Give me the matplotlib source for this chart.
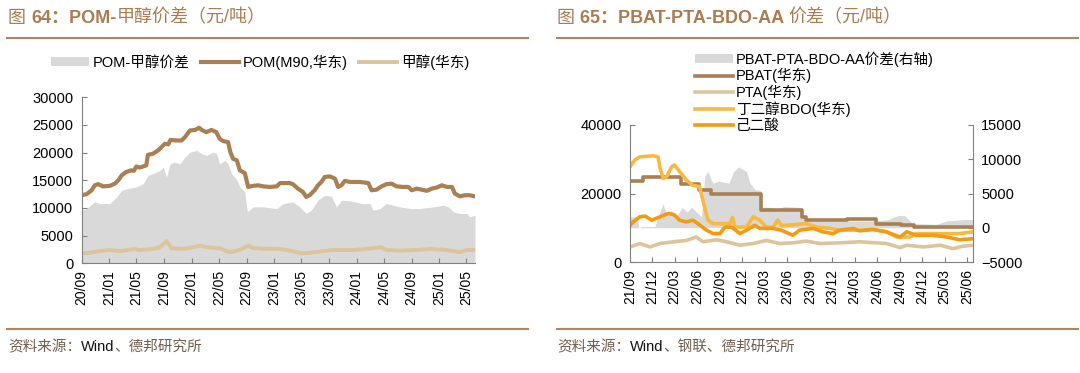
import pandas as pd
import matplotlib
matplotlib.use('Agg')
import matplotlib.pyplot as plt
import matplotlib.dates as mdates

plt.rcParams['font.family'] = ['Liberation Sans', 'Noto Sans CJK SC']

# ---- figure 64: POM - methanol ----
pom_dates = ['2020-09-01', '2020-09-23', '2020-10-15', '2020-10-29', '2020-11-13', '2020-12-05',
    '2021-01-04', '2021-01-26', '2021-02-10', '2021-02-25', '2021-03-17', '2021-04-08',
    '2021-04-20', '2021-05-01', '2021-05-15', '2021-06-14', '2021-06-21', '2021-07-13',
    '2021-08-05', '2021-08-20', '2021-09-04', '2021-09-19', '2021-09-29', '2021-10-26',
    '2021-11-17', '2021-12-02', '2021-12-24', '2022-01-16', '2022-02-03', '2022-02-14',
    '2022-03-07', '2022-03-29', '2022-04-20', '2022-05-05', '2022-05-19', '2022-06-11',
    '2022-06-21', '2022-07-03', '2022-07-20', '2022-08-02', '2022-08-24', '2022-09-08',
    '2022-09-30', '2022-10-22', '2022-11-14', '2022-12-13', '2023-01-12', '2023-01-27',
    '2023-03-10', '2023-03-25', '2023-04-16', '2023-05-08', '2023-05-23', '2023-06-07',
    '2023-06-29', '2023-07-14', '2023-07-29', '2023-08-13', '2023-09-05', '2023-09-27',
    '2023-10-11', '2023-10-26', '2023-11-10', '2023-12-02', '2024-01-16', '2024-02-22',
    '2024-03-07', '2024-03-29', '2024-04-20', '2024-05-12', '2024-06-04', '2024-06-26',
    '2024-07-25', '2024-08-17', '2024-09-01', '2024-09-23', '2024-10-15', '2024-11-07',
    '2024-11-29', '2024-12-21', '2025-01-12', '2025-02-04', '2025-02-26', '2025-03-11',
    '2025-04-02', '2025-04-25', '2025-05-16', '2025-06-08']
pom_price = [12300, 12500, 13200, 14100, 14300, 13900,
    14000, 14400, 15000, 15900, 16500, 16800,
    16700, 17500, 17300, 17700, 19600, 19800,
    20400, 21000, 21600, 21500, 22300, 22200,
    22200, 22800, 24000, 24100, 24500, 24100,
    23700, 24100, 23700, 22500, 22100, 21900,
    20100, 18900, 18600, 16800, 16300, 13800,
    14000, 14100, 13900, 13800, 13900, 14500,
    14500, 14300, 13500, 12900, 12000, 12300,
    13200, 14100, 14700, 15600, 15700, 15300,
    13800, 14100, 14900, 14700, 14700, 14500,
    13200, 13300, 13900, 14300, 14400, 13900,
    13800, 13800, 13200, 13500, 13300, 13100,
    13500, 13700, 14100, 13800, 13800, 12600,
    12100, 12300, 12300, 12100]

spread64_dates = ['2020-09-01', '2020-09-23', '2020-10-29', '2020-11-20', '2021-01-04', '2021-02-03',
    '2021-02-25', '2021-03-24', '2021-05-01', '2021-06-01', '2021-06-21', '2021-07-13',
    '2021-08-13', '2021-08-28', '2021-09-12', '2021-09-27', '2021-10-19', '2021-11-10',
    '2021-12-02', '2021-12-24', '2022-01-23', '2022-02-14', '2022-03-07', '2022-04-06',
    '2022-04-20', '2022-05-05', '2022-05-27', '2022-06-11', '2022-06-26', '2022-07-17',
    '2022-08-02', '2022-08-24', '2022-09-04', '2022-09-30', '2022-11-14', '2023-01-12',
    '2023-02-11', '2023-03-25', '2023-04-24', '2023-05-23', '2023-06-14', '2023-07-14',
    '2023-08-13', '2023-09-12', '2023-10-04', '2023-10-26', '2023-12-02', '2024-01-23',
    '2024-03-01', '2024-03-14', '2024-04-13', '2024-05-12', '2024-06-11', '2024-07-10',
    '2024-08-24', '2024-10-08', '2024-12-07', '2025-01-20', '2025-02-11', '2025-03-04',
    '2025-04-02', '2025-05-02', '2025-05-16', '2025-06-08']
spread64 = [9600, 9900, 11100, 10800, 10800, 12000,
    13200, 13500, 13800, 14400, 15900, 16200,
    16800, 17400, 15600, 18000, 18300, 18000,
    19200, 20100, 20400, 19800, 19500, 20100,
    19900, 18000, 18600, 18000, 16200, 15300,
    13800, 12900, 9300, 10200, 10200, 9900,
    10800, 11100, 10200, 9000, 9600, 11400,
    12300, 12100, 10200, 11400, 11300, 10800,
    10800, 9600, 9900, 10800, 10500, 10200,
    9900, 9900, 10200, 10500, 10200, 9300,
    9000, 9000, 8400, 8700]

meoh_dates = ['2020-09-01', '2020-10-07', '2020-11-20', '2021-01-04', '2021-02-18', '2021-04-20',
    '2021-05-15', '2021-07-13', '2021-08-13', '2021-09-12', '2021-10-04', '2021-11-25',
    '2022-01-09', '2022-02-08', '2022-03-07', '2022-05-05', '2022-06-19', '2022-08-02',
    '2022-09-08', '2022-09-30', '2022-11-28', '2023-01-27', '2023-03-25', '2023-05-01',
    '2023-06-07', '2023-08-06', '2023-09-20', '2023-12-18', '2024-02-15', '2024-04-20',
    '2024-05-12', '2024-07-10', '2024-09-23', '2024-11-22', '2025-02-04', '2025-04-02',
    '2025-05-02', '2025-06-08']
meoh_price = [1800, 1900, 2200, 2400, 2200, 2600,
    2400, 2600, 2900, 4000, 2700, 2600,
    2900, 3200, 2900, 2700, 2000, 2400,
    3200, 2750, 2600, 2600, 2200, 1800,
    1900, 2200, 2400, 2400, 2600, 2900,
    2400, 2300, 2400, 2600, 2400, 2000,
    2400, 2400]

# ---- figure 65: PBAT - PTA - BDO - AA ----
pbat_dates = ['2021-09-01', '2021-10-25', '2022-03-28', '2022-06-08', '2022-07-25', '2023-02-15',
    '2023-08-01', '2023-08-18', '2024-01-30', '2024-05-25', '2024-09-05', '2024-10-27', '2025-06-24']
pbat_price = [23700, 24900, 22900, 21000, 20000, 15100,
    13200, 12200, 12700, 11200, 10700, 10200, 10200]

pta_dates = ['2021-09-01', '2021-10-11', '2021-11-21', '2022-01-01', '2022-02-24', '2022-04-18',
    '2022-05-28', '2022-06-24', '2022-08-18', '2022-09-28', '2022-11-21', '2023-01-14',
    '2023-03-08', '2023-05-01', '2023-06-24', '2023-08-18', '2023-10-11', '2024-01-01',
    '2024-03-21', '2024-07-08', '2024-09-01', '2024-09-28', '2024-12-04', '2025-02-11',
    '2025-04-04', '2025-05-14', '2025-06-24']
pta_price = [4400, 5400, 4400, 5400, 5900, 6300,
    7300, 5900, 6500, 5900, 4900, 5400,
    6300, 5400, 5600, 6100, 5400, 5600,
    5900, 5400, 4200, 4900, 4400, 4900,
    3900, 4600, 4900]

bdo_dates = ['2021-09-01', '2021-09-21', '2021-10-11', '2021-12-04', '2021-12-24', '2022-01-01',
    '2022-01-14', '2022-01-28', '2022-02-17', '2022-03-01', '2022-03-21', '2022-04-18',
    '2022-05-14', '2022-06-10', '2022-06-24', '2022-07-14', '2022-08-04', '2022-10-11',
    '2022-10-22', '2022-11-01', '2022-12-18', '2023-01-14', '2023-02-10', '2023-03-08',
    '2023-04-04', '2023-04-24', '2023-05-08', '2023-05-28', '2023-08-18', '2023-09-28',
    '2023-11-21', '2024-01-01', '2024-03-21', '2024-05-14', '2024-07-08', '2024-08-18',
    '2024-10-11', '2024-11-07', '2025-02-11', '2025-05-01', '2025-06-24']
bdo_price = [27800, 29800, 30700, 31000, 30700, 27300,
    24400, 24900, 27800, 28300, 26400, 23900,
    22400, 22000, 18000, 12200, 11200, 11200,
    13000, 10200, 10200, 13200, 12200, 10200,
    10200, 12200, 10700, 10700, 11200, 10200,
    9800, 9300, 9300, 9500, 8800, 7300,
    7300, 8300, 8300, 8300, 8800]

aa_dates = ['2021-09-01', '2021-09-14', '2021-10-11', '2021-11-01', '2021-11-28', '2022-01-01',
    '2022-02-04', '2022-03-01', '2022-03-21', '2022-04-18', '2022-05-14', '2022-06-04',
    '2022-07-08', '2022-08-04', '2022-09-01', '2022-09-21', '2022-10-18', '2022-11-21',
    '2022-12-18', '2023-01-21', '2023-02-10', '2023-04-04', '2023-05-08', '2023-06-24',
    '2023-07-21', '2023-09-14', '2023-10-24', '2023-12-04', '2024-01-01', '2024-02-24',
    '2024-03-21', '2024-05-14', '2024-07-08', '2024-09-01', '2024-09-28', '2024-11-07',
    '2025-01-14', '2025-03-08', '2025-05-01', '2025-06-24']
aa_price = [10700, 11700, 13200, 13400, 12200, 13200,
    14200, 13700, 12200, 11700, 12200, 11200,
    9300, 8300, 8300, 10200, 10200, 8300,
    9300, 10700, 9800, 9800, 9300, 7800,
    9300, 9800, 8800, 8300, 9300, 9800,
    9100, 9500, 8800, 7300, 8800, 7800,
    7800, 7300, 6500, 6800]

spread65_dates = ['2021-09-01', '2021-10-01', '2021-10-07', '2021-10-20', '2021-12-11', '2021-12-24',
    '2022-01-13', '2022-01-26', '2022-02-15', '2022-03-12', '2022-04-01', '2022-04-20',
    '2022-05-09', '2022-06-04', '2022-06-18', '2022-07-01', '2022-07-14', '2022-08-03',
    '2022-08-29', '2022-10-07', '2022-10-27', '2022-11-16', '2022-12-18', '2023-01-01',
    '2023-01-20', '2023-02-14', '2023-02-20', '2023-03-25', '2023-04-21', '2023-05-16',
    '2023-07-16', '2023-08-04', '2023-09-07', '2024-01-28', '2024-05-12', '2024-07-16',
    '2024-08-25', '2024-09-19', '2024-10-22', '2025-01-28', '2025-03-08', '2025-05-25',
    '2025-06-24']
spread65 = [1600, 1600, 0, 200, 200, 1600,
    3500, 2100, 2500, 1800, 3000, 2300,
    3000, 2100, 1600, 7500, 8200, 6500,
    6800, 6500, 8200, 8900, 8200, 6500,
    5600, 5400, 3000, 3000, 2600, 3100,
    3000, 1700, 1200, 1000, 1000, 1200,
    1800, 1800, 600, 500, 1000, 1200,
    1200]

BROWN = '#a98054'
TAN = '#dcc59c'
GREY_FILL = '#d9d9d9'
TITLE_C = '#a97c52'
RULE_C = '#b6845c'
SPINE_C = '#808080'

fig = plt.figure(figsize=(10.8, 3.73), dpi=100)
W, H = 1080.0, 373.0

overlay = fig.add_axes([0, 0, 1, 1])
overlay.axis('off')
overlay.set_xlim(0, 1)
overlay.set_ylim(0, 1)


def chain_text(x, y, parts, size):
    # parts: list of (text, weight, color); each piece placed right after the previous one
    prev = overlay.text(x / W, 1 - y / H, parts[0][0], fontsize=size, fontweight=parts[0][1],
                        color=parts[0][2], va='center', ha='left')
    for txt, wt, col in parts[1:]:
        prev = overlay.annotate(txt, xy=(1, 0), xycoords=prev, va='bottom', ha='left',
                                fontsize=size, fontweight=wt, color=col)


def rule(x0, x1, y):
    overlay.plot([x0 / W, x1 / W], [1 - y / H, 1 - y / H], color=RULE_C, lw=1.5)


chain_text(8, 18, [('图 ', 'normal', TITLE_C), ('64：POM-', 'bold', TITLE_C),
                   ('甲醇价差（元/吨）', 'normal', TITLE_C)], 13)
chain_text(557, 18, [('图 ', 'normal', TITLE_C), ('65：PBAT-PTA-BDO-AA ', 'bold', TITLE_C),
                     ('价差（元/吨）', 'normal', TITLE_C)], 13)
rule(7, 528, 38)
rule(557, 1078, 38)
rule(7, 528, 329)
rule(557, 1078, 329)
chain_text(8, 347, [('资料来源：', 'normal', '#6e5f50'), ('Wind', 'normal', '#111111'),
                    ('、德邦研究所', 'normal', '#6e5f50')], 10.5)
chain_text(557, 347, [('资料来源：', 'normal', '#6e5f50'), ('Wind', 'normal', '#111111'),
                      ('、钢联、德邦研究所', 'normal', '#6e5f50')], 10.5)


def style_axis(ax, right=False):
    ax.spines['top'].set_visible(False)
    ax.spines['right'].set_visible(right)
    for s in ['left', 'bottom', 'right']:
        ax.spines[s].set_color(SPINE_C)
    ax.tick_params(direction='in', length=3.5, color=SPINE_C, labelsize=10.5, pad=6)
    ax.tick_params(axis='x', labelrotation=90, labelsize=10, pad=5)


# ---- left chart ----
ax1 = fig.add_axes([81.7 / W, 1 - 263.3 / H, (475 - 81.7) / W, (263.3 - 97.3) / H])
d_sp = pd.to_datetime(spread64_dates)
d_pom = pd.to_datetime(pom_dates)
d_me = pd.to_datetime(meoh_dates)
h_fill = ax1.fill_between(d_sp, 0, spread64, color=GREY_FILL, lw=0, label='POM-甲醇价差')
h_pom, = ax1.plot(d_pom, pom_price, color=BROWN, lw=3, label='POM(M90,华东)')
h_me, = ax1.plot(d_me, meoh_price, color=TAN, lw=2.8, label='甲醇(华东)')
ax1.set_ylim(0, 30000)
ax1.set_yticks(range(0, 30001, 5000))
ax1.set_xlim(d_pom[0], d_pom[-1])
ax1.xaxis.set_major_locator(mdates.MonthLocator(bymonth=[1, 5, 9]))
ax1.xaxis.set_major_formatter(mdates.DateFormatter('%y/%m'))
style_axis(ax1)

fig.legend([h_fill, h_pom, h_me], [h.get_label() for h in [h_fill, h_pom, h_me]],
           loc='center', bbox_to_anchor=(260 / W, 1 - 62 / H), ncol=3, frameon=False,
           fontsize=10.5, handlelength=2.6, handleheight=0.55, handletextpad=0.25,
           columnspacing=0.8, borderpad=0)

# ---- right chart ----
ax2 = fig.add_axes([630 / W, 1 - 262 / H, (973 - 630) / W, (262 - 125) / H])
ax3 = ax2.twinx()
d_s65 = pd.to_datetime(spread65_dates)
h_sp = ax3.fill_between(d_s65, 0, spread65, color=GREY_FILL, lw=0, label='PBAT-PTA-BDO-AA价差(右轴)')
h_pbat, = ax2.plot(pd.to_datetime(pbat_dates), pbat_price, color=BROWN, lw=2.6,
                   drawstyle='steps-post', label='PBAT(华东)')
h_pta, = ax2.plot(pd.to_datetime(pta_dates), pta_price, color=TAN, lw=2.6, label='PTA(华东)')
h_bdo, = ax2.plot(pd.to_datetime(bdo_dates), bdo_price, color='#f7b941', lw=2.6, label='丁二醇BDO(华东)')
h_aa, = ax2.plot(pd.to_datetime(aa_dates), aa_price, color='#f59a12', lw=2.6, label='己二酸')
ax2.set_zorder(ax3.get_zorder() + 1)
ax2.patch.set_visible(False)
ax2.set_ylim(0, 40000)
ax2.set_yticks([0, 20000, 40000])
ax3.set_ylim(-5000, 15000)
ax3.set_yticks(range(-5000, 15001, 5000))
ax2.set_xlim(pd.Timestamp(pbat_dates[0]), pd.Timestamp(pbat_dates[-1]))
ax2.xaxis.set_major_locator(mdates.MonthLocator(bymonth=[3, 6, 9, 12]))
ax2.xaxis.set_major_formatter(mdates.DateFormatter('%y/%m'))
style_axis(ax2)
style_axis(ax3, right=True)
ax3.spines['left'].set_visible(False)
ax3.spines['bottom'].set_visible(False)

hs = [h_sp, h_pbat, h_pta, h_bdo, h_aa]
fig.legend(hs, [h.get_label() for h in hs], loc='upper left',
           bbox_to_anchor=(688 / W, 1 - 44 / H), ncol=1, frameon=False, fontsize=10.5,
           handlelength=2.6, handleheight=0.55, handletextpad=0.2, labelspacing=0.1,
           borderpad=0)

fig.savefig('out.png', dpi=100)
